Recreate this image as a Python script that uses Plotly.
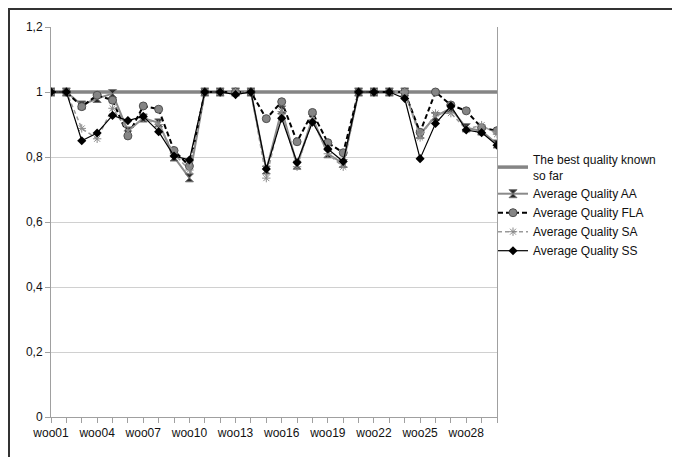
import plotly.graph_objects as go

categories = ["woo%02d" % i for i in range(1, 31)]
tick_labels = ["woo01", "", "", "woo04", "", "", "woo07", "", "", "woo10", "", "",
               "woo13", "", "", "woo16", "", "", "woo19", "", "", "woo22", "", "",
               "woo25", "", "", "woo28", "", ""]
y_tick_vals = [0, 0.2, 0.4, 0.6, 0.8, 1.0, 1.2]
y_tick_text = ["0", "0,2", "0,4", "0,6", "0,8", "1", "1,2"]

best_known = [1, 1, 1, 1, 1, 1, 1, 1, 1, 1, 1, 1, 1, 1, 1,
              1, 1, 1, 1, 1, 1, 1, 1, 1, 1, 1, 1, 1, 1, 1]
avg_aa = [1, 1, 0.96, 0.98, 0.995, 0.88, 0.92, 0.905, 0.80, 0.736,
          1, 1, 1, 1, 0.76, 0.945, 0.775, 0.92, 0.81, 0.78,
          1, 1, 1, 1, 0.87, 0.925, 0.95, 0.89, 0.88, 0.84]
avg_fla = [1, 1, 0.955, 0.99, 0.975, 0.865, 0.957, 0.947, 0.82, 0.772,
           1, 1, 1, 1, 0.918, 0.97, 0.847, 0.937, 0.844, 0.813,
           1, 1, 1, 1, 0.876, 1, 0.96, 0.942, 0.89, 0.881]
avg_sa = [1, 1, 0.888, 0.856, 0.95, 0.88, 0.92, 0.90, 0.81, 0.76,
          1, 1, 1, 1, 0.735, 0.94, 0.77, 0.915, 0.81, 0.77,
          1, 1, 1, 1, 0.86, 0.934, 0.935, 0.885, 0.898, 0.87]
avg_ss = [1, 1, 0.85, 0.874, 0.928, 0.912, 0.925, 0.878, 0.803, 0.791,
          1, 1, 0.992, 1, 0.763, 0.919, 0.783, 0.907, 0.825, 0.786,
          1, 1, 1, 0.98, 0.795, 0.903, 0.957, 0.883, 0.875, 0.836]

# the page body has an 8px margin; figure pixel = page pixel - 8
OFF = 8
W, H = 680 - OFF, 457 - OFF
L, R, T, B = 51 - OFF, 497 - OFF, 27 - OFF, 417 - OFF

fig = go.Figure()
fig.add_trace(go.Scatter(x=categories, y=best_known, mode="lines",
                         name="The best quality known<br>so far",
                         line=dict(color="#858585", width=3.5)))
fig.add_trace(go.Scatter(x=categories, y=avg_aa, mode="lines+markers",
                         name="Average Quality AA",
                         line=dict(color="#8a8a8a", width=2),
                         marker=dict(symbol="hourglass", size=8, color="#2a2a2a",
                                     line=dict(color="#707070", width=1))))
fig.add_trace(go.Scatter(x=categories, y=avg_fla, mode="lines+markers",
                         name="Average Quality FLA",
                         line=dict(color="#000000", width=2, dash="5px,3px"),
                         marker=dict(symbol="circle", size=8, color="#858585",
                                     line=dict(color="#505050", width=1))))
fig.add_trace(go.Scatter(x=categories, y=avg_sa, mode="lines+markers",
                         name="Average Quality SA",
                         line=dict(color="#9a9a9a", width=1.5, dash="4px,3px"),
                         marker=dict(symbol="asterisk-open", size=7, color="#8a8a8a",
                                     line=dict(color="#8a8a8a", width=1))))
fig.add_trace(go.Scatter(x=categories, y=avg_ss, mode="lines+markers",
                         name="Average Quality SS",
                         line=dict(color="#000000", width=1.2),
                         marker=dict(symbol="diamond", size=7, color="#000000")))

def px_x(p):
    return (p - OFF - L) / (R - L)

def px_y(p):
    return (B - (p - OFF)) / (B - T)

fig.update_layout(
    width=W, height=H,
    margin=dict(l=L, r=W - R, t=T, b=H - B, pad=0),
    paper_bgcolor="white", plot_bgcolor="white",
    font=dict(family="Liberation Sans, Arial, sans-serif", size=12, color="#111111"),
    showlegend=True,
    legend=dict(x=px_x(493), y=px_y(145), xanchor="left", yanchor="top",
                bgcolor="rgba(0,0,0,0)", font=dict(size=12, color="#111111"),
                tracegroupgap=0, itemwidth=30),
    xaxis=dict(type="category", range=[0, 29], tickmode="array",
               tickvals=categories, ticktext=tick_labels, tickangle=0,
               ticks="outside", ticklen=5, tickcolor="#a0a0a0",
               showline=True, linecolor="#a0a0a0", linewidth=1,
               showgrid=False, zeroline=False),
    yaxis=dict(range=[0, 1.2], tickmode="array", tickvals=y_tick_vals,
               ticktext=y_tick_text, ticks="outside", ticklen=5,
               tickcolor="#a0a0a0", showline=True, linecolor="#a0a0a0",
               linewidth=1, mirror=True, showgrid=True, gridcolor="#d0d0d0",
               gridwidth=1, zeroline=False),
    shapes=[
        dict(type="line", xref="paper", yref="paper", layer="above",
             x0=px_x(8), x1=px_x(700), y0=px_y(9), y1=px_y(9),
             line=dict(color="#333333", width=2)),
        dict(type="line", xref="paper", yref="paper", layer="above",
             x0=px_x(9), x1=px_x(9), y0=px_y(8), y1=px_y(470),
             line=dict(color="#333333", width=2)),
    ],
)

fig.write_html("out.html")
